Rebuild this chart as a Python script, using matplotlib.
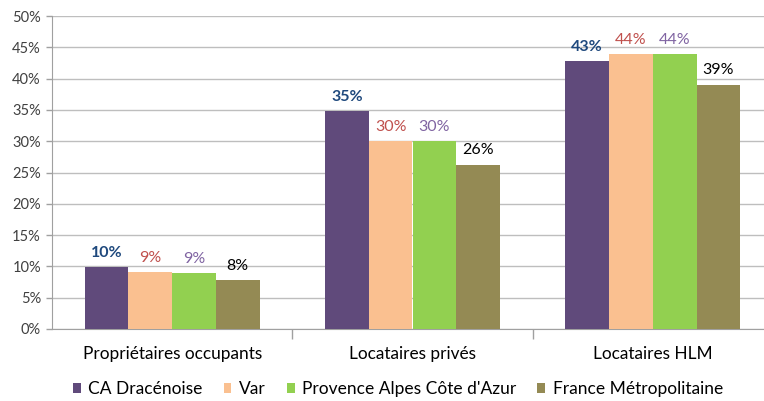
import matplotlib
matplotlib.use("Agg")
import matplotlib.pyplot as plt
import numpy as np

categories = ["Propriétaires occupants", "Locataires privés", "Locataires HLM"]
series_names = ["CA Dracénoise", "Var", "Provence Alpes Côte d'Azur", "France Métropolitaine"]
values = {
    "CA Dracénoise": [9.9, 34.8, 42.8],
    "Var": [9.1, 30.0, 43.9],
    "Provence Alpes Côte d'Azur": [8.9, 30.0, 43.9],
    "France Métropolitaine": [7.8, 26.2, 39.0],
}
labels = {
    "CA Dracénoise": ["10%", "35%", "43%"],
    "Var": ["9%", "30%", "44%"],
    "Provence Alpes Côte d'Azur": ["9%", "30%", "44%"],
    "France Métropolitaine": ["8%", "26%", "39%"],
}
yticks = [0, 5, 10, 15, 20, 25, 30, 35, 40, 45, 50]

bar_colors = ["#604A7B", "#FAC090", "#92D050", "#948A54"]
label_colors = ["#1F497D", "#C0504D", "#8064A2", "#000000"]
label_weights = ["bold", "normal", "normal", "normal"]

plt.rcParams['font.family'] = ['Lato', 'DejaVu Sans']

fig = plt.figure(figsize=(7.64, 4.01), dpi=100)
ax = fig.add_axes([52/764, 72/401, 721/764, 313/401])

x = np.arange(len(categories))
bw = 0.182
for i, name in enumerate(series_names):
    pos = x + (i - 1.5) * bw
    ax.bar(pos, values[name], width=bw, color=bar_colors[i], zorder=3, label=name)
    for p, v, t in zip(pos, values[name], labels[name]):
        ax.text(p, v + 1.2, t, ha="center", va="bottom", fontsize=11.5,
                color=label_colors[i], fontweight=label_weights[i], zorder=4)

ax.set_xlim(-0.5, 2.5)
ax.set_ylim(0, 50)
ax.set_yticks(yticks)
ax.set_yticklabels([f"{t}%" for t in yticks], fontsize=10.5, color="#404040")
ax.yaxis.grid(True, color="#BEBEBE", linewidth=1, zorder=0)
ax.set_axisbelow(True)

ax.set_xticks([0.5, 1.5], minor=False)
ax.set_xticklabels([])
ax.tick_params(axis="x", length=7, color="#A0A0A0", width=1)
ax.tick_params(axis="y", length=4, color="#A0A0A0", width=1, pad=4)
for c_i, cat in enumerate(categories):
    ax.text(c_i, -4.0, cat, ha="center", va="center", fontsize=12.4, color="#000000")

for s in ["top", "right"]:
    ax.spines[s].set_visible(False)
ax.spines["left"].set_color("#A0A0A0")
ax.spines["bottom"].set_color("#A0A0A0")

handles, lbls = ax.get_legend_handles_labels()
fig.legend(handles, lbls, loc="center", bbox_to_anchor=(0.521, 12/401), ncol=4,
           frameon=False, fontsize=12.5, handlelength=0.45, handleheight=0.55,
           handletextpad=0.45, columnspacing=1.2)

fig.savefig("out.png", dpi=100)
